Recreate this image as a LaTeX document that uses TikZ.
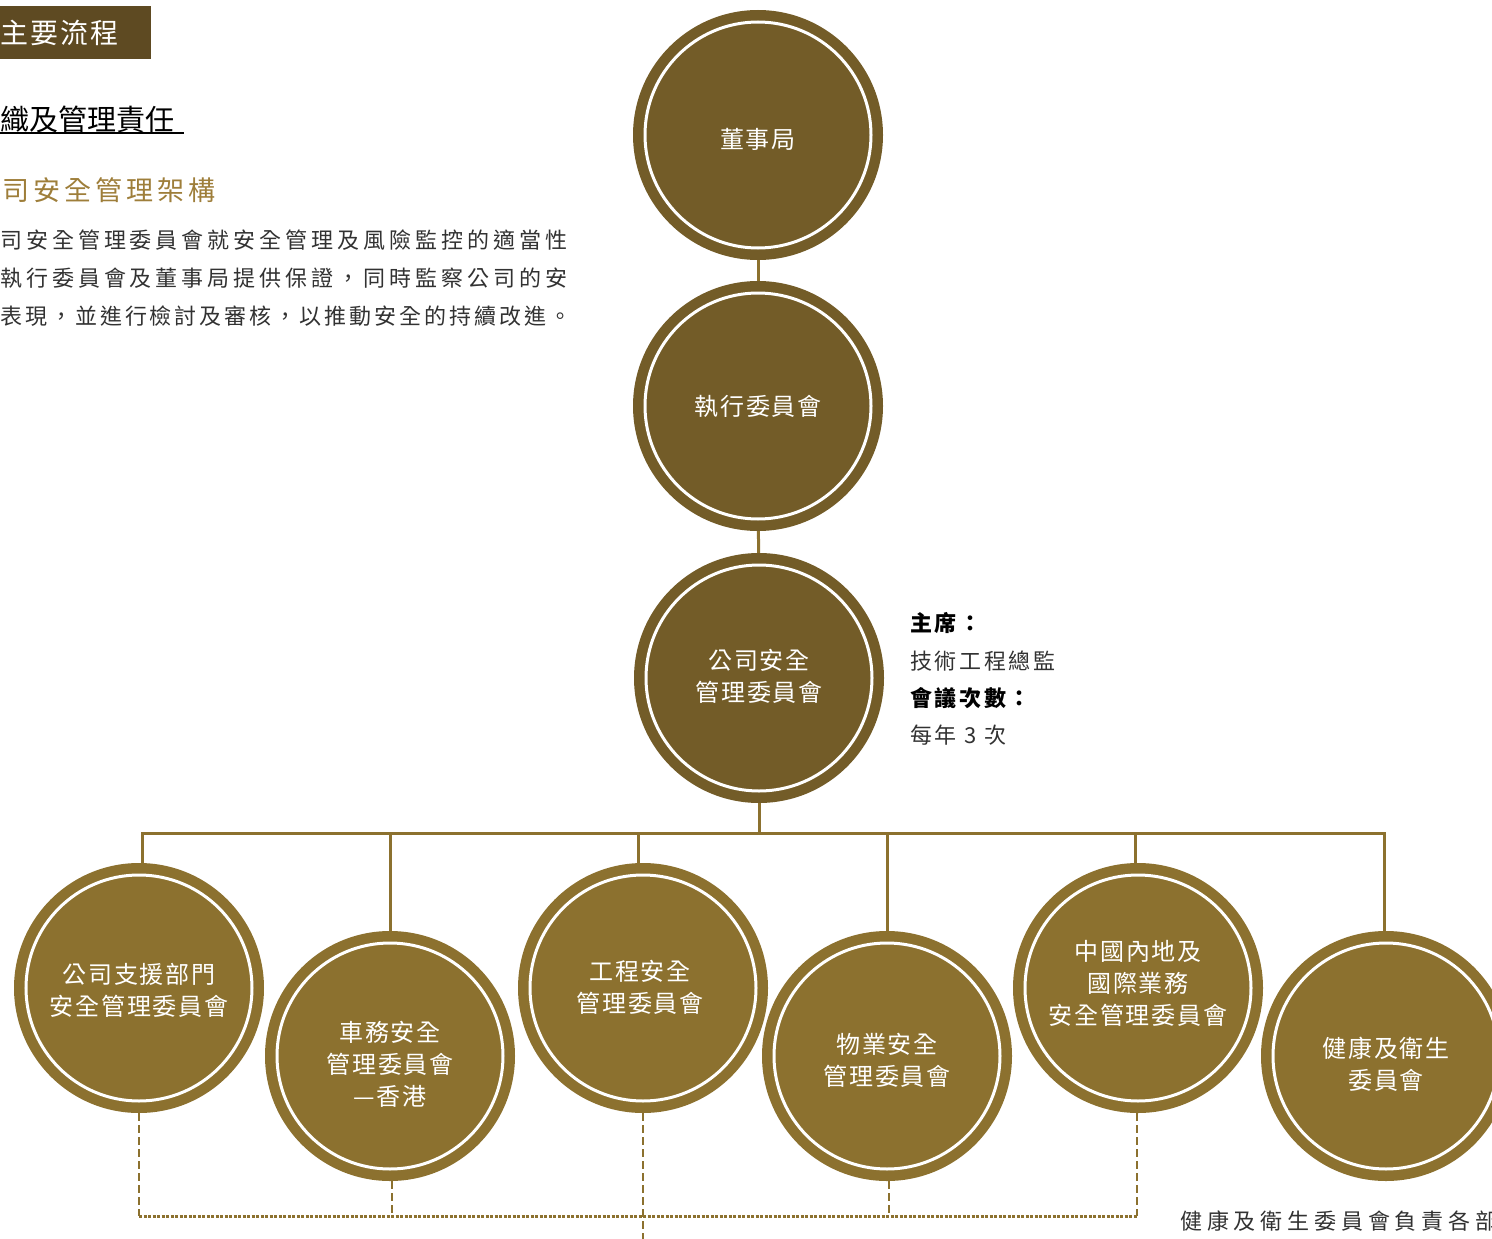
\documentclass[tikz,border=0pt]{standalone}
\usepackage{fontspec}
\newfontfamily\cjk{Noto Sans CJK TC}
\newfontfamily\cjkC[LetterSpace=8]{Noto Sans CJK TC}
\newfontfamily\cjkP[LetterSpace=18]{Noto Sans CJK TC}
\newfontfamily\cjkQ[LetterSpace=13.5]{Noto Sans CJK TC}
\newfontfamily\cjkR[LetterSpace=12]{Noto Sans CJK TC}
\newfontfamily\cjkT[LetterSpace=7]{Noto Sans CJK TC}
\newfontfamily\cjkH[LetterSpace=15]{Noto Sans CJK TC}
\newfontfamily\cjkB[LetterSpace=22]{Noto Sans CJK TC}
\definecolor{dk}{RGB}{115,92,40}
\definecolor{lt}{RGB}{140,113,47}
\definecolor{boxc}{RGB}{94,74,34}
\definecolor{goldt}{RGB}{158,126,58}
\definecolor{txt}{RGB}{50,50,50}
\begin{document}
\begin{tikzpicture}[x=1pt,y=-1pt,
  topc/.style={circle, fill=dk, minimum size=250pt, inner sep=0pt},
  botc/.style={topc, fill=lt},
  ctext/.style={text=white, align=center, inner sep=0pt, font=\cjkC\fontsize{24}{32}\selectfont},
  ring/.style={white, line width=3pt},
  link/.style={draw=lt, line width=3pt},
  vdash/.style={draw=lt, line width=2pt, dash pattern=on 8pt off 4pt},
  hdash/.style={draw=lt, line width=3pt, dash pattern=on 3pt off 1.5pt},
  para/.style={anchor=west, inner sep=0pt, text=txt, font=\cjkP\fontsize{22}{26}\selectfont},
  info/.style={anchor=west, inner sep=0pt, text=txt, font=\cjkR\fontsize{22}{26}\selectfont}]
\useasboundingbox (0,0) rectangle (1492,1239);
% header texts
\fill[boxc] (0,6) rectangle (151,59);
\node[anchor=west, inner sep=0pt, text=white, font=\cjkT\fontsize{28}{32}\selectfont] (t1) at (0,33) {主要流程};
\node[anchor=west, inner sep=0pt, text=black, font=\cjk\fontsize{29}{32}\selectfont] (t2) at (0,119) {織及管理責任};
\draw[line width=1.5pt] (0,133) -- (184,133);
\node[anchor=west, inner sep=0pt, text=goldt, font=\cjkH\fontsize{27}{32}\selectfont] (t3) at (2,190) {司安全管理架構};
\node[para] (p1) at (0,240) {司安全管理委員會就安全管理及風險監控的適當性};
\node[para] (p2) at (0,278) {執行委員會及董事局提供保證，同時監察公司的安};
\node[para, font=\cjkQ\fontsize{22}{26}\selectfont] (p3) at (0,316) {表現，並進行檢討及審核，以推動安全的持續改進。};
% top circles
\node[topc] (a) at (758,135) {};
\node[topc] (b) at (758,406) {};
\node[topc] (c) at (759,678) {};
\node[ctext] (ta) at ([yshift=-4pt]a.center) {董事局};
\node[ctext] (tb) at (b.center) {執行委員會};
\node[ctext] (tc) at ([yshift=2pt]c.center) {公司安全\\管理委員會};
% info
\node[info, font=\bfseries\cjkR\fontsize{22}{26}\selectfont, text=black] (i1) at (910,623) {主席：};
\node[info] (i2) at (910,661) {技術工程總監};
\node[info, font=\bfseries\cjkR\fontsize{22}{26}\selectfont, text=black] (i3) at (910,698) {會議次數：};
\node[info] (i4) at (910,735) {每年 3 次};
% bottom circles
\node[botc] (d1) at (139,988) {};
\node[botc] (d2) at (390,1056) {};
\node[botc] (d3) at (643,988) {};
\node[botc] (d4) at (887,1056) {};
\node[botc] (d5) at (1138,988) {};
\node[botc] (d6) at (1386,1056) {};
\node[ctext] (td1) at ([yshift=-2pt]d1.center) {公司支援部門\\安全管理委員會};
\node[ctext] (td2) at ([yshift=-8pt]d2.center) {車務安全\\管理委員會\\—香港};
\node[ctext] (td3) at ([xshift=-3pt,yshift=1pt]d3.center) {工程安全\\管理委員會};
\node[ctext] (td4) at ([yshift=-4pt]d4.center) {物業安全\\管理委員會};
\node[ctext] (td5) at ([yshift=5pt]d5.center) {中國內地及\\國際業務\\安全管理委員會};
\node[ctext] (td6) at ([yshift=-8pt]d6.center) {健康及衛生\\委員會};
\foreach \n in {a,b,c,d1,d2,d3,d4,d5,d6} \draw[ring] (\n.center) circle (113pt);
% connectors
\draw[link] (a) -- (b);
\draw[link] (b) -- (c);
\coordinate (bar) at (0,833);
\draw[link] (c) -- (c.south |- bar);
\draw[link] ([xshift=3pt]d1.north) -- ([xshift=3pt]d1.north |- bar) -- ([xshift=-2pt]d6.north |- bar) -- ([xshift=-2pt]d6.north);
\draw[link] (d2.north) -- (d2.north |- bar);
\draw[link] ([xshift=-5pt]d3.north) -- ([xshift=-5pt]d3.north |- bar);
\draw[link] (d4.north) -- (d4.north |- bar);
\draw[link] ([xshift=-3pt]d5.north) -- ([xshift=-3pt]d5.north |- bar);
% dashed
\coordinate (dl) at (0,1216);
\coordinate (bot) at (0,1245);
\draw[hdash] (d1.south |- dl) -- ([xshift=-1pt]d5.south |- dl);
\draw[vdash] (d1.south) -- (d1.south |- dl);
\draw[vdash] ([xshift=-1pt]d5.south) -- ([xshift=-1pt]d5.south |- dl);
\foreach \n in {d2,d4} \draw[vdash] ([xshift=2pt]\n.south) -- ([xshift=2pt]\n.south |- dl);
\draw[vdash] (d3.south) -- (d3.south |- bot);
\node[anchor=west, inner sep=0pt, text=txt, font=\cjkB\fontsize{22}{26}\selectfont] (nb) at (1180,1221) {健康及衛生委員會負責各部};
\end{tikzpicture}
\end{document}
